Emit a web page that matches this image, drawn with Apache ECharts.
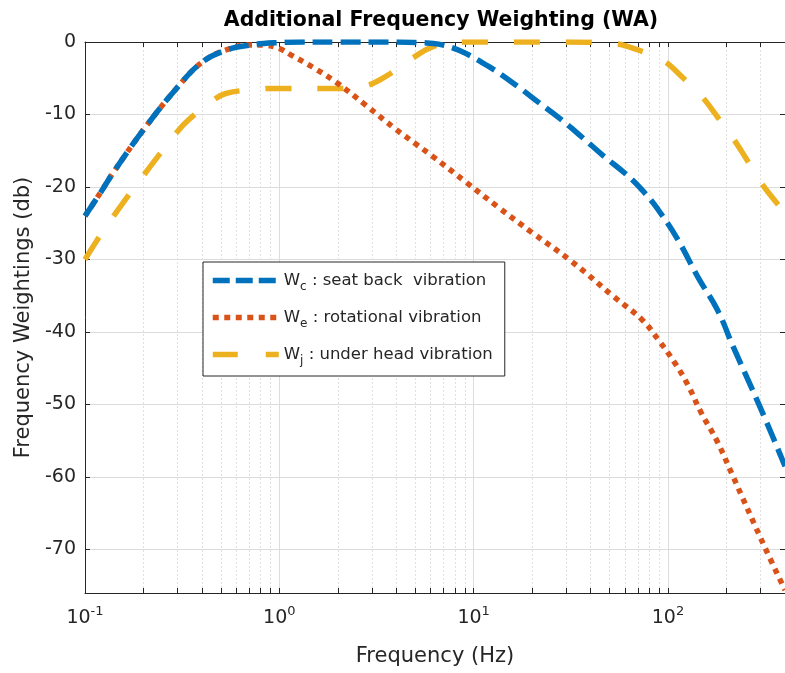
<!DOCTYPE html>
<html>
<head>
<meta charset="utf-8">
<script src="https://cdn.jsdelivr.net/npm/echarts@6/dist/echarts.min.js"></script>
<style>
  html, body { margin: 0; padding: 0; background: #fff; }
  #root { width: 785px; height: 673px; }
</style>
</head>
<body>
<div id="root"></div>
<script>
// values (frequency in Hz, weighting in dB)
var freqC = [0.1, 0.12, 0.139, 0.2, 0.3, 0.4, 0.53, 0.7, 0.96, 1.3, 2, 4, 5.5, 6.6, 8.4, 12, 17, 21.5, 27.3, 36, 47, 60, 73.5, 88.8, 112, 143, 180, 217, 264, 320, 400];
var wC    = [-24, -20.8, -18.1, -12.1, -6.2, -2.8, -1.15, -0.45, -0.1, 0, 0, 0, -0.1, -0.3, -1.15, -3.4, -6.2, -8.3, -10.4, -13.1, -15.8, -18.1, -20.4, -23.1, -27.2, -32.5, -37, -42.1, -47.2, -52.3, -58.5];

var freqE = [0.1, 0.12, 0.139, 0.2, 0.3, 0.4, 0.53, 0.7, 0.85, 1.0, 1.15, 1.48, 1.95, 2.78, 3.96, 5, 6.1, 9.1, 13.4, 20, 31.7, 53, 73.5, 88.8, 108, 126, 148, 180, 215, 315, 400];
var wE    = [-24, -20.8, -18.1, -12.1, -6.2, -2.8, -1.1, -0.4, -0.45, -0.9, -1.8, -3.45, -5.5, -8.7, -12, -14, -15.7, -19.3, -22.8, -26.3, -30.2, -35.2, -38.3, -41, -44.2, -47.2, -51.1, -55.2, -59.8, -69.7, -75.6];

var freqJ = [0.1, 0.115, 0.151, 0.215, 0.307, 0.36, 0.47, 0.53, 0.7, 0.96, 2.2, 2.9, 3.6, 4.8, 6.1, 8, 9.5, 30, 52, 70, 94, 119, 148, 177, 215, 250, 296, 355, 400];
var wJ    = [-30, -27.4, -22.8, -17.3, -12, -10.2, -7.8, -7.1, -6.6, -6.4, -6.4, -5.9, -4.6, -2.3, -0.7, -0.1, 0, 0, -0.2, -1.1, -2.5, -4.9, -7.4, -10.1, -13.2, -15.9, -19.1, -21.9, -23.5];

var xMajor = [0.1, 1, 10, 100];
var xMinor = [0.2, 0.3, 0.4, 0.5, 0.6, 0.7, 0.8, 0.9, 2, 3, 4, 5, 6, 7, 8, 9, 20, 30, 40, 50, 60, 70, 80, 90, 200, 300, 400];
var yTicks = [-70, -60, -50, -40, -30, -20, -10, 0];

var names = ['Wc', 'We', 'Wj'];
var legendText = {
  Wc: '{n|W}{s|c}{n| : seat back  vibration}',
  We: '{n|W}{s|e}{n| : rotational vibration}',
  Wj: '{n|W}{s|j}{n| : under head vibration}'
};

var font = 'DejaVu Sans';
var ink = '#262626';

function pairs(xs, ys) {
  return xs.map(function (x, i) { return [x, ys[i]]; });
}

var dom = document.getElementById('root');
var myChart = echarts.init(dom, null, { renderer: 'canvas' });

var xBase = {
  type: 'log', logBase: 10, min: 0.1, max: 400, gridIndex: 0
};
var allX = xMajor.concat(xMinor).sort(function (a, b) { return a - b; });

var option = {
  animation: false,
  backgroundColor: '#fff',
  title: {
    text: 'Additional Frequency Weighting (WA)',
    left: 436,
    top: 5,
    textAlign: 'center',
    textStyle: { fontFamily: font, fontSize: 20.5, fontWeight: 'bold', color: '#000' }
  },
  legend: {
    orient: 'vertical',
    left: 203,
    top: 262,
    padding: [10, 12, 9, 7],
    itemWidth: 66,
    itemHeight: 14,
    itemGap: 16,
    backgroundColor: '#fff',
    borderColor: ink,
    borderWidth: 1,
    borderRadius: 0,
    itemStyle: { color: 'transparent', borderWidth: 0, opacity: 0 },
    lineStyle: { width: 5.5 },
    data: [
      { name: 'Wc', lineStyle: { width: 5.5, type: [17, 6] } },
      { name: 'We', lineStyle: { width: 5.5, type: [6, 5.5] } },
      { name: 'Wj', lineStyle: { width: 5.5, type: [25, 28] } }
    ],
    formatter: function (name) { return legendText[name]; },
    textStyle: {
      rich: {
        n: { fontFamily: font, fontSize: 16.5, color: ink, lineHeight: 21 },
        s: { fontFamily: font, fontSize: 12, color: ink, padding: [13, 0, 0, 0] }
      }
    }
  },
  grid: { left: 85, top: 42, width: 702, height: 551 },
  xAxis: [
    Object.assign({}, xBase, {
      position: 'bottom',
      name: 'Frequency (Hz)',
      nameLocation: 'middle',
      nameGap: 53,
      nameTextStyle: { fontFamily: font, fontSize: 21, color: ink },
      axisLine: { show: true, onZero: false, lineStyle: { color: ink, width: 1 } },
      axisTick: { show: true, inside: true, length: 5, customValues: allX, lineStyle: { color: ink } },
      axisLabel: {
        customValues: xMajor,
        margin: 12,
        formatter: function (v) {
          return '{b|10}{s|' + Math.round(Math.log10(v)) + '}';
        },
        rich: {
          b: { fontFamily: font, fontSize: 19, color: ink },
          s: { fontFamily: font, fontSize: 13, color: ink, padding: [0, 0, 14, 0] }
        }
      },
      splitLine: { show: false }
    }),
    Object.assign({}, xBase, {
      position: 'top',
      axisLine: { show: true, onZero: false, lineStyle: { color: ink, width: 1 } },
      axisTick: { show: true, inside: true, length: 5, customValues: allX, lineStyle: { color: ink } },
      axisLabel: { show: false },
      splitLine: { show: false }
    }),
    Object.assign({}, xBase, {
      position: 'bottom',
      axisLine: { show: false, onZero: false },
      axisTick: { show: false, customValues: xMajor },
      axisLabel: { show: false },
      splitLine: { show: true, lineStyle: { color: '#dcdcdc', width: 1 } }
    }),
    Object.assign({}, xBase, {
      position: 'bottom',
      axisLine: { show: false, onZero: false },
      axisTick: { show: false, customValues: xMinor },
      axisLabel: { show: false },
      splitLine: { show: true, lineStyle: { color: '#e0e0e0', width: 1, type: [2, 2] } }
    })
  ],
  yAxis: [
    {
      type: 'value', min: -76, max: 0, position: 'left',
      name: 'Frequency Weightings (db)',
      nameLocation: 'middle',
      nameGap: 43,
      nameTextStyle: { fontFamily: font, fontSize: 21, color: ink },
      axisLine: { show: true, onZero: false, lineStyle: { color: ink, width: 1 } },
      axisTick: { show: true, inside: true, length: 5, customValues: yTicks, lineStyle: { color: ink } },
      axisLabel: { customValues: yTicks, margin: 9, fontFamily: font, fontSize: 19, color: ink },
      splitLine: { show: true, lineStyle: { color: '#dcdcdc', width: 1 } }
    },
    {
      type: 'value', min: -76, max: 0, position: 'right',
      axisLine: { show: true, onZero: false, lineStyle: { color: ink, width: 1 } },
      axisTick: { show: true, inside: true, length: 5, customValues: yTicks, lineStyle: { color: ink } },
      axisLabel: { show: false },
      splitLine: { show: false }
    }
  ],
  series: [
    {
      name: 'Wc', type: 'line', xAxisIndex: 0, yAxisIndex: 0,
      data: pairs(freqC, wC), symbol: 'none', smooth: 0.4,
      color: '#0072BD',
      lineStyle: { color: '#0072BD', width: 5.5, type: [20, 8], cap: 'butt' },
      z: 4
    },
    {
      name: 'We', type: 'line', xAxisIndex: 0, yAxisIndex: 0,
      data: pairs(freqE, wE), symbol: 'none', smooth: 0.4,
      color: '#D95319',
      lineStyle: { color: '#D95319', width: 5.5, type: [5.5, 5.5], cap: 'butt' },
      z: 3
    },
    {
      name: 'Wj', type: 'line', xAxisIndex: 0, yAxisIndex: 0,
      data: pairs(freqJ, wJ), symbol: 'none', smooth: 0.4,
      color: '#EDB120',
      lineStyle: { color: '#EDB120', width: 5.5, type: [26, 26], cap: 'butt' },
      z: 2
    }
  ]
};

myChart.setOption(option);
</script>
</body>
</html>
